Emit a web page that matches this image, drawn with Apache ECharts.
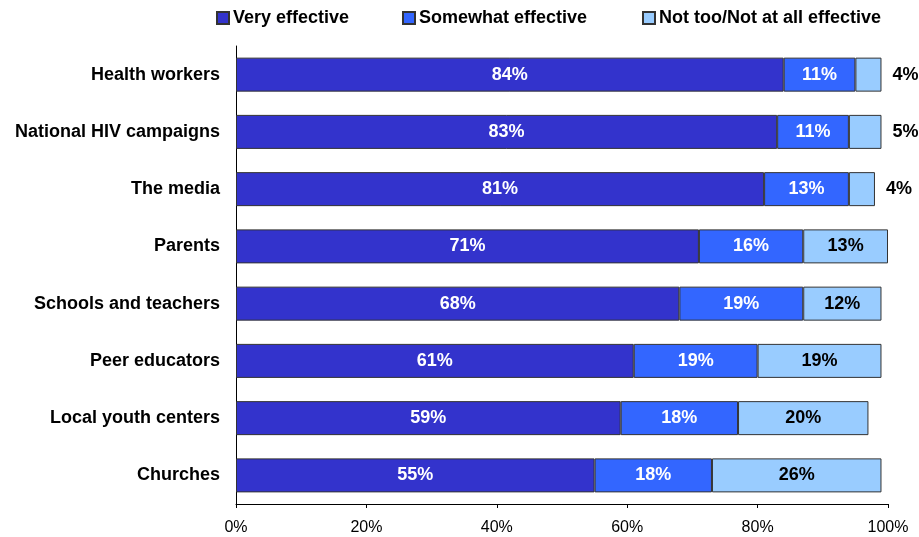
<!DOCTYPE html>
<html>
<head>
<meta charset="utf-8">
<style>
  html, body { margin: 0; padding: 0; background: #fff; }
  #chart { width: 919px; height: 537px; }
</style>
<script src="https://cdn.jsdelivr.net/npm/echarts@6/dist/echarts.min.js"></script>
</head>
<body>
<div id="chart"></div>
<script>
// Categories listed top to bottom
const categories = [
  'Health workers',
  'National HIV campaigns',
  'The media',
  'Parents',
  'Schools and teachers',
  'Peer educators',
  'Local youth centers',
  'Churches'
];
const seriesNames = ['Very effective', 'Somewhat effective', 'Not too/Not at all effective'];
const veryEffective     = [84, 83, 81, 71, 68, 61, 59, 55];
const somewhatEffective = [11, 11, 13, 16, 19, 19, 18, 18];
const notEffective      = [4, 5, 4, 13, 12, 19, 20, 26];
const xTicks = [0, 20, 40, 60, 80, 100];

const FONT = '"Liberation Sans", Arial, sans-serif';
const colors = ['#3333CC', '#3366FF', '#99CCFF'];
const labelColors = ['#ffffff', '#ffffff', '#000000'];
const legendLefts = [211, 397, 637];

function buildData(values, idx) {
  return values.map(v => {
    const item = { value: v };
    if (idx === 2 && v <= 5) {
      item.label = { position: 'right', distance: 11 };
    }
    return item;
  });
}

const allValues = [veryEffective, somewhatEffective, notEffective];

// One legend block per entry so each sits at its own horizontal position
const legends = seriesNames.map((name, i) => ({
  top: 4,
  left: legendLefts[i],
  itemWidth: 12,
  itemHeight: 12,
  icon: 'rect',
  textStyle: { fontFamily: FONT, fontSize: 18, fontWeight: 'bold', color: '#000', padding: [0, 0, 0, -1] },
  data: [name]
}));

const chart = echarts.init(document.getElementById('chart'), null, { renderer: 'canvas' });
chart.setOption({
  animation: false,
  textStyle: { fontFamily: FONT },
  legend: legends,
  grid: { left: 236, right: 31, top: 46, bottom: 33, containLabel: false },
  xAxis: {
    type: 'value',
    min: xTicks[0],
    max: xTicks[xTicks.length - 1],
    interval: 20,
    axisLine: { show: true, lineStyle: { color: '#000', width: 1 } },
    axisTick: { show: true, length: 4, lineStyle: { color: '#000' } },
    splitLine: { show: false },
    axisLabel: {
      formatter: v => v + '%',
      color: '#000', fontSize: 16, fontFamily: FONT, margin: 16
    }
  },
  yAxis: {
    type: 'category',
    data: categories,
    inverse: true,
    axisLine: { show: true, lineStyle: { color: '#000', width: 1 } },
    axisTick: { show: false },
    axisLabel: {
      color: '#000', fontSize: 18, fontWeight: 'bold', fontFamily: FONT, margin: 16
    }
  },
  series: allValues.map((vals, i) => ({
    name: seriesNames[i],
    type: 'bar',
    stack: 'total',
    barWidth: 34,
    itemStyle: { color: colors[i], borderColor: '#333333', borderWidth: 1 },
    label: {
      show: true,
      position: 'inside',
      formatter: p => p.value + '%',
      color: labelColors[i],
      fontSize: 18,
      fontWeight: 'bold',
      fontFamily: FONT
    },
    data: buildData(vals, i)
  }))
});
</script>
</body>
</html>
